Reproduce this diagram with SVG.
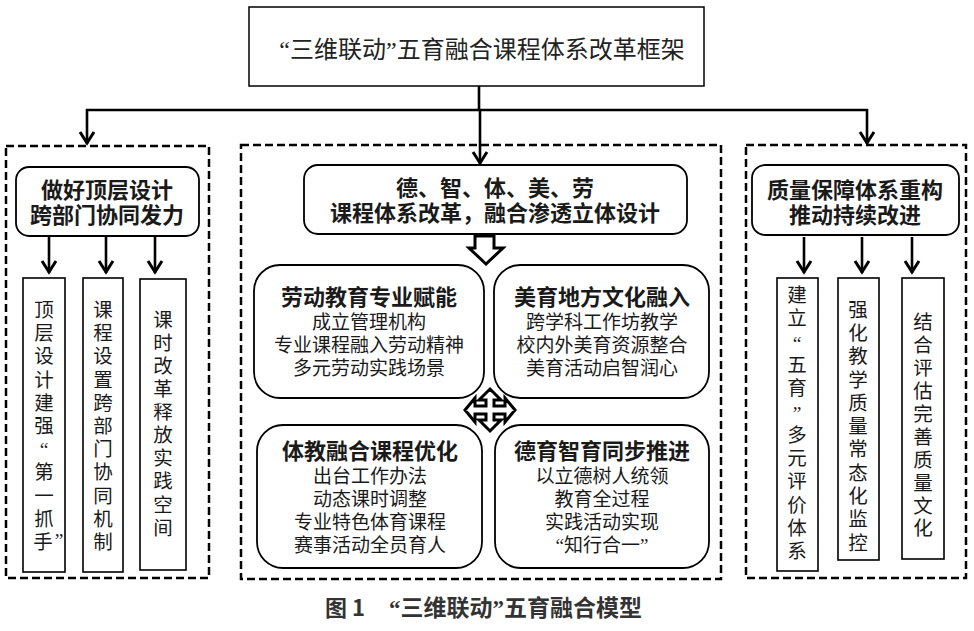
<svg xmlns="http://www.w3.org/2000/svg" width="974" height="631" viewBox="0 0 974 631">
<defs>
<style>
.t{font-family:"Noto Sans CJK SC","Noto Sans",sans-serif;fill:#1a1a1a;text-anchor:middle}
.q{font-family:"Liberation Serif","DejaVu Serif",serif}
.h{font-size:22px;font-weight:700}
.b{font-size:19px}
.v{font-size:19.5px}
.dash{fill:none;stroke:#000;stroke-width:2.5;stroke-dasharray:8 4}
.box{fill:#fff;stroke:#000;stroke-width:1.6}
.rbox{fill:#fff;stroke:#000;stroke-width:1.8}
.con{fill:none;stroke:#000;stroke-width:2.6}
.blk{fill:#fff;stroke:#000;stroke-width:3;stroke-linejoin:miter}
</style>
<marker id="ah" markerUnits="userSpaceOnUse" markerWidth="30" markerHeight="30" viewBox="-20 -15 30 30" refX="0" refY="0" orient="auto" overflow="visible">
<path d="M-12,-7 L-1,0 L-12,7" fill="none" stroke="#000" stroke-width="3"/>
</marker>
</defs>
<rect width="974" height="631" fill="#fff"/>

<g id="title">
<rect x="249" y="7" width="455" height="79" fill="#fff" stroke="#000" stroke-width="1.5"/>
<text class="t" x="482" y="58" font-size="24" style="fill:#222"><tspan class="q">“</tspan>三维联动<tspan class="q">”</tspan>五育融合课程体系改革框架</text>
</g>

<g id="left-panel">
<rect class="dash" x="6" y="146" width="203" height="432"/>
</g>
<g id="left-head">
<rect class="rbox" x="16" y="167" width="183" height="69" rx="13"/>
<text class="t h" x="107" y="198">做好顶层设计</text>
<text class="t h" x="107" y="223">跨部门协同发力</text>
</g>
<g id="left-1">
<rect class="box" x="23" y="278" width="42" height="294"/>
<text class="t v"><tspan x="44" y="317">顶</tspan><tspan x="44" y="340">层</tspan><tspan x="44" y="363">设</tspan><tspan x="44" y="387">计</tspan><tspan x="44" y="410">建</tspan><tspan x="44" y="433">强</tspan><tspan class="q" x="44" y="456">“</tspan><tspan x="44" y="479">第</tspan><tspan x="44" y="503">一</tspan><tspan x="44" y="526">抓</tspan><tspan x="43" y="549">手</tspan><tspan class="q" x="59" y="547">”</tspan></text>
</g>
<g id="left-2">
<rect class="box" x="83" y="278" width="40" height="294"/>
<text class="t v"><tspan x="103" y="317">课</tspan><tspan x="103" y="340">程</tspan><tspan x="103" y="363">设</tspan><tspan x="103" y="387">置</tspan><tspan x="103" y="410">跨</tspan><tspan x="103" y="433">部</tspan><tspan x="103" y="456">门</tspan><tspan x="103" y="479">协</tspan><tspan x="103" y="503">同</tspan><tspan x="103" y="526">机</tspan><tspan x="103" y="549">制</tspan></text>
</g>
<g id="left-3">
<rect class="box" x="140" y="279" width="46" height="291"/>
<text class="t v"><tspan x="163" y="327">课</tspan><tspan x="163" y="350">时</tspan><tspan x="163" y="373">改</tspan><tspan x="163" y="396">革</tspan><tspan x="163" y="419">释</tspan><tspan x="163" y="442">放</tspan><tspan x="163" y="465">实</tspan><tspan x="163" y="488">践</tspan><tspan x="163" y="512">空</tspan><tspan x="163" y="535">间</tspan></text>
</g>

<g id="center-panel">
<rect class="dash" x="241" y="145" width="480" height="434"/>
</g>
<g id="center-head">
<rect class="rbox" x="304" y="165" width="383" height="69" rx="14"/>
<text class="t h" x="495" y="196">德、智、体、美、劳</text>
<text class="t h" x="495" y="221">课程体系改革，融合渗透立体设计</text>
</g>
<g id="q-labor">
<rect class="rbox" x="254" y="265" width="230" height="133" rx="26"/>
<text class="t h" x="369" y="305">劳动教育专业赋能</text>
<text class="t b" x="369" y="329">成立管理机构</text>
<text class="t b" x="369" y="352">专业课程融入劳动精神</text>
<text class="t b" x="369" y="375">多元劳动实践场景</text>
</g>
<g id="q-art">
<rect class="rbox" x="494" y="265" width="215" height="133" rx="26"/>
<text class="t h" x="602" y="305">美育地方文化融入</text>
<text class="t b" x="602" y="329">跨学科工作坊教学</text>
<text class="t b" x="602" y="352">校内外美育资源整合</text>
<text class="t b" x="602" y="375">美育活动启智润心</text>
</g>
<g id="q-pe">
<rect class="rbox" x="257" y="425" width="225" height="143" rx="26"/>
<text class="t h" x="370" y="459">体教融合课程优化</text>
<text class="t b" x="370" y="483">出台工作办法</text>
<text class="t b" x="370" y="506">动态课时调整</text>
<text class="t b" x="370" y="529">专业特色体育课程</text>
<text class="t b" x="370" y="552">赛事活动全员育人</text>
</g>
<g id="q-moral">
<rect class="rbox" x="495" y="425" width="214" height="143" rx="26"/>
<text class="t h" x="602" y="459">德育智育同步推进</text>
<text class="t b" x="602" y="483">以立德树人统领</text>
<text class="t b" x="602" y="506">教育全过程</text>
<text class="t b" x="602" y="529">实践活动实现</text>
<text class="t b" x="602" y="552"><tspan class="q">“</tspan>知行合一<tspan class="q">”</tspan></text>
</g>

<g id="right-panel">
<rect class="dash" x="746" y="145" width="220" height="433"/>
</g>
<g id="right-head">
<rect class="rbox" x="752" y="165" width="207" height="70" rx="13"/>
<text class="t h" x="855" y="198">质量保障体系重构</text>
<text class="t h" x="855" y="223">推动持续改进</text>
</g>
<g id="right-1">
<rect class="box" x="777" y="278" width="41" height="293"/>
<text class="t v"><tspan x="797" y="302">建</tspan><tspan x="797" y="325">立</tspan><tspan class="q" x="797" y="350">“</tspan><tspan x="797" y="372">五</tspan><tspan x="797" y="395">育</tspan><tspan class="q" x="797" y="420">”</tspan><tspan x="797" y="442">多</tspan><tspan x="797" y="465">元</tspan><tspan x="797" y="488">评</tspan><tspan x="797" y="512">价</tspan><tspan x="797" y="535">体</tspan><tspan x="797" y="558">系</tspan></text>
</g>
<g id="right-2">
<rect class="box" x="838" y="278" width="41" height="282"/>
<text class="t v"><tspan x="858" y="317">强</tspan><tspan x="858" y="340">化</tspan><tspan x="858" y="363">教</tspan><tspan x="858" y="387">学</tspan><tspan x="858" y="410">质</tspan><tspan x="858" y="433">量</tspan><tspan x="858" y="456">常</tspan><tspan x="858" y="480">态</tspan><tspan x="858" y="503">化</tspan><tspan x="858" y="526">监</tspan><tspan x="858" y="550">控</tspan></text>
</g>
<g id="right-3">
<rect class="box" x="902" y="278" width="42" height="281"/>
<text class="t v"><tspan x="923" y="329">结</tspan><tspan x="923" y="352">合</tspan><tspan x="923" y="375">评</tspan><tspan x="923" y="398">估</tspan><tspan x="923" y="421">完</tspan><tspan x="923" y="444">善</tspan><tspan x="923" y="467">质</tspan><tspan x="923" y="490">量</tspan><tspan x="923" y="513">文</tspan><tspan x="923" y="535">化</tspan></text>
</g>

<g id="connectors">
<line class="con" x1="479" y1="86" x2="479" y2="110"/>
<line class="con" x1="86" y1="110" x2="868" y2="110"/>
<line class="con" x1="87" y1="109" x2="87" y2="144" marker-end="url(#ah)"/>
<line class="con" x1="480" y1="109" x2="480" y2="164" marker-end="url(#ah)"/>
<line class="con" x1="867" y1="109" x2="867" y2="144" marker-end="url(#ah)"/>
<line class="con" x1="49" y1="237" x2="49" y2="273" marker-end="url(#ah)"/>
<line class="con" x1="106" y1="237" x2="106" y2="273" marker-end="url(#ah)"/>
<line class="con" x1="155" y1="237" x2="155" y2="273" marker-end="url(#ah)"/>
<line class="con" x1="804" y1="237" x2="804" y2="273" marker-end="url(#ah)"/>
<line class="con" x1="862" y1="237" x2="862" y2="273" marker-end="url(#ah)"/>
<line class="con" x1="912" y1="237" x2="912" y2="273" marker-end="url(#ah)"/>
<polygon class="blk" points="475,236 494,236 494,248 503,248 486,264 469,248 475,248"/>
<polygon class="blk" transform="translate(490,410)" points="25,0 15,-12 15,-4 4,-4 4,-10 11,-10 0,-21 -11,-10 -4,-10 -4,-4 -15,-4 -15,-12 -25,0 -15,12 -15,4 -4,4 -4,10 -11,10 0,21 11,10 4,10 4,4 15,4 15,12"/>
</g>

<g id="caption">
<text class="t" x="325" y="616" font-size="22" font-weight="700" style="text-anchor:start;fill:#333">图 1</text>
<text class="t" x="389" y="616" font-size="23" font-weight="700" style="text-anchor:start;fill:#333"><tspan class="q">“</tspan>三维联动<tspan class="q">”</tspan>五育融合模型</text>
</g>
</svg>
